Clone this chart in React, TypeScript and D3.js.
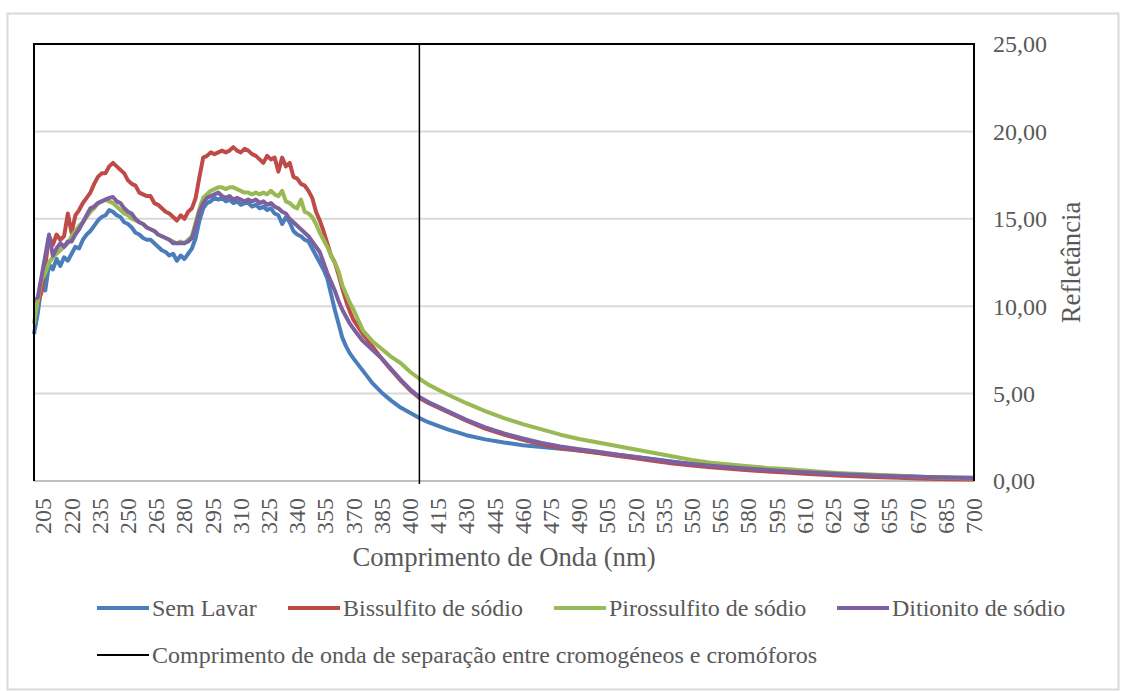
import React from "react";
import * as d3 from "d3";

// wavelength grid (nm)
const gridNoisy = d3.range(200, 370, 2); // 200..368
const gridMid = [370, 375, 380, 385, 390, 395, 400, 405];
const gridTail = d3.range(410, 701, 10); // 410..700
const wavelengths = [...gridNoisy, ...gridMid, ...gridTail];

const semLavar = [
  8.4, 9.6, 11.2, 10.9, 12.4, 12.1, 12.7, 12.3, 12.8, 12.6,
  13.0, 13.4, 13.3, 13.8, 14.1, 14.3, 14.6, 14.9, 15.1, 15.2,
  15.5, 15.4, 15.2, 15.1, 14.8, 14.7, 14.5, 14.2, 14.1, 13.9,
  13.8, 13.8, 13.6, 13.4, 13.2, 13.1, 12.9, 13.0, 12.6, 12.9,
  12.7, 13.0, 13.3, 13.9, 14.9, 15.6, 15.9, 16.0, 16.2, 16.1,
  16.2, 16.0, 16.1, 15.9, 16.0, 15.8, 15.9, 15.9, 15.7, 15.8,
  15.6, 15.7, 15.5, 15.6, 15.3, 15.2, 14.7, 15.1, 14.8, 14.3,
  14.1, 14.0, 13.8, 13.7, 13.3, 12.9, 12.5, 12.1, 11.6, 10.7,
  9.8, 9.0, 8.2, 7.7, 7.3,
  7.0, 6.3, 5.6, 5.05, 4.6, 4.2, 3.9, 3.6,
  3.35, 2.95, 2.62, 2.38, 2.2, 2.05, 1.95, 1.85, 1.75, 1.62,
  1.5, 1.38, 1.24, 1.1, 0.98, 0.88, 0.79, 0.71, 0.64, 0.57,
  0.51, 0.45, 0.4, 0.35, 0.31, 0.28, 0.25, 0.22, 0.2, 0.18,
];

const bissulfito = [
  10.4, 10.2, 10.8, 12.3, 14.0, 13.5, 14.1, 13.8, 14.0, 15.3,
  14.2, 15.2, 15.5, 15.9, 16.2, 16.5, 17.0, 17.4, 17.6, 17.6,
  18.0, 18.2, 18.0, 17.8, 17.6, 17.2, 17.0, 16.9, 16.5, 16.4,
  16.3, 16.3, 15.9, 15.8, 15.6, 15.4, 15.3, 15.1, 14.9, 15.2,
  15.0, 15.4, 15.6, 16.2, 17.4, 18.5, 18.6, 18.8, 18.7, 18.8,
  18.9, 18.8, 18.9, 19.1, 18.9, 18.8, 19.0, 18.9, 18.7, 18.6,
  18.4, 18.2, 18.6, 18.4, 18.5, 17.7, 18.5, 18.0, 18.2, 17.4,
  17.3, 17.0, 16.9, 16.6, 16.2, 15.4, 14.9, 14.3, 13.6, 12.9,
  12.5, 11.8, 11.0, 10.3, 9.7,
  9.2, 8.4, 7.7, 7.0, 6.35, 5.75, 5.2, 4.75,
  4.45, 3.95, 3.45, 3.0, 2.65, 2.35, 2.1, 1.9, 1.75, 1.6,
  1.45, 1.3, 1.15, 1.0, 0.88, 0.78, 0.7, 0.62, 0.55, 0.48,
  0.42, 0.36, 0.3, 0.26, 0.22, 0.18, 0.15, 0.12, 0.1, 0.08,
];

const pirossulfito = [
  9.0, 10.3, 11.5, 11.9, 12.5, 12.8, 13.0, 13.2, 13.4, 13.6,
  14.0, 14.3, 14.6, 14.8, 15.1, 15.4, 15.6, 15.9, 16.0, 16.1,
  16.0, 15.9, 15.7, 15.5, 15.3, 15.2, 15.0, 14.9, 14.8, 14.7,
  14.5, 14.4, 14.3, 14.1, 14.0, 13.9, 13.8, 13.7, 13.6, 13.7,
  13.6, 13.8, 14.0, 14.8, 15.6, 16.2, 16.4, 16.6, 16.7, 16.8,
  16.8, 16.7, 16.8, 16.8, 16.7, 16.6, 16.5, 16.5, 16.4, 16.5,
  16.4, 16.5, 16.4, 16.6, 16.4, 16.3, 16.6, 16.0, 15.9, 15.7,
  15.6, 16.1, 15.4, 15.3, 15.1, 14.7, 14.2, 13.8, 13.4, 12.9,
  12.5, 12.0, 11.2, 10.7, 10.2,
  9.8, 8.6, 8.0, 7.55, 7.1, 6.75, 6.25, 5.85,
  5.5, 4.95, 4.45, 4.0, 3.6, 3.25, 2.95, 2.65, 2.4, 2.2,
  2.0, 1.8, 1.6, 1.4, 1.2, 1.05, 0.95, 0.85, 0.75, 0.68,
  0.6, 0.52, 0.45, 0.4, 0.35, 0.3, 0.25, 0.2, 0.17, 0.15,
];

const ditionito = [
  10.4, 10.5, 11.7, 12.9, 14.1, 12.9, 13.3, 13.6, 13.4, 13.7,
  13.7, 14.1, 14.4, 14.8, 15.2, 15.6, 15.7, 15.9, 16.0, 16.1,
  16.2, 16.25, 16.0, 15.9, 15.6, 15.4, 15.3, 15.0, 14.8, 14.7,
  14.5, 14.4, 14.3, 14.1, 14.0, 13.9, 13.8, 13.6, 13.6, 13.6,
  13.6, 13.7, 13.9, 14.6, 15.4, 15.9, 16.2, 16.3, 16.4, 16.5,
  16.3, 16.2, 16.3, 16.1, 16.2, 16.1, 16.0, 16.1, 16.0, 16.1,
  15.9, 16.0, 15.8, 15.9, 15.7, 15.6, 15.4, 15.3, 15.0, 14.8,
  14.6, 14.4, 14.2, 14.0, 13.7, 13.4, 13.1, 12.5, 11.9, 11.4,
  10.9, 10.3, 9.8, 9.4, 9.0,
  8.7, 8.0, 7.5, 7.0, 6.4, 5.8, 5.25, 4.8,
  4.5, 4.0, 3.5, 3.07, 2.72, 2.43, 2.18, 1.98, 1.82, 1.67,
  1.52, 1.38, 1.23, 1.09, 0.97, 0.87, 0.78, 0.7, 0.63, 0.56,
  0.5, 0.44, 0.39, 0.34, 0.3, 0.27, 0.24, 0.21, 0.19, 0.17,
];

const seriesNames = ["Sem Lavar", "Bissulfito de sódio", "Pirossulfito de sódio", "Ditionito de sódio"];
const seriesValues = [semLavar, bissulfito, pirossulfito, ditionito];
const seriesColors = ["#4A7EBB", "#BE4B48", "#98B954", "#7D60A0"];

const separatorWavelength = 405;
const separatorLabel = "Comprimento de onda de separação entre cromogéneos e cromóforos";
const xTicks = d3.range(205, 701, 15);
const yTicks = [0, 5, 10, 15, 20, 25];
const xTitle = "Comprimento de Onda (nm)";
const yTitle = "Refletância";

const FONT = "'Liberation Serif', 'Times New Roman', serif";
const TXT = "#595959";

export default function App() {
  const left = 34, right = 974, top = 44, bottom = 481;
  const x = d3.scaleLinear().domain([200, 700]).range([left, right]);
  const y = d3.scaleLinear().domain([0, 25]).range([bottom, top]);
  const line = d3
    .line<number>()
    .x((_, i) => x(wavelengths[i]))
    .y((d) => y(d))
    .curve(d3.curveLinear);

  const fmt = (v: number) => v.toFixed(2).replace(".", ",");

  // legend layout
  const legendItems = [
    { lx: 97, tx: 152 },
    { lx: 288, tx: 343 },
    { lx: 554, tx: 609 },
    { lx: 837, tx: 892 },
  ];

  return (
    <svg
      width={1127}
      height={691}
      style={{ position: "absolute", left: 0, top: 0, background: "#fff" }}
      fontFamily={FONT}
    >
      <rect x={7.5} y={13.5} width={1111} height={676} fill="#fff" stroke="#D9D9D9" strokeWidth={2} />
      {/* gridlines */}
      {yTicks.slice(1, -1).map((t) => (
        <line key={t} x1={left} x2={right} y1={y(t)} y2={y(t)} stroke="#D9D9D9" strokeWidth={2} />
      ))}
      {/* x axis line */}
      <line x1={left} x2={right} y1={bottom} y2={bottom} stroke="#BFBFBF" strokeWidth={2} />
      {/* series */}
      {seriesValues.map((vals, i) => (
        <path key={i} d={line(vals) || ""} fill="none" stroke={seriesColors[i]} strokeWidth={4} strokeLinejoin="round" />
      ))}
      {/* separator */}
      <line x1={x(separatorWavelength)} x2={x(separatorWavelength)} y1={top} y2={bottom + 3} stroke="#000" strokeWidth={1.5} />
      {/* plot border */}
      <path d={`M${left},${bottom} V${top} H${right} V${bottom}`} fill="none" stroke="#000" strokeWidth={2} />
      {/* y ticks (right) */}
      {yTicks.map((t) => (
        <text key={t} x={993} y={y(t)} dy="0.35em" fontSize={24} fill={TXT}>
          {fmt(t)}
        </text>
      ))}
      <text
        transform={`translate(1080,${(top + bottom) / 2}) rotate(-90)`}
        textAnchor="middle"
        fontSize={26.7}
        fill={TXT}
      >
        {yTitle}
      </text>
      {/* x ticks */}
      {xTicks.map((t) => (
        <text
          key={t}
          transform={`translate(${x(t)},498) rotate(-90)`}
          textAnchor="end"
          dy="0.33em"
          fontSize={24}
          fill={TXT}
        >
          {t}
        </text>
      ))}
      <text x={(left + right) / 2} y={566} textAnchor="middle" fontSize={26.7} fill={TXT}>
        {xTitle}
      </text>
      {/* legend */}
      {seriesNames.map((n, i) => (
        <g key={n}>
          <line x1={legendItems[i].lx} x2={legendItems[i].lx + 52} y1={608} y2={608} stroke={seriesColors[i]} strokeWidth={4} />
          <text x={legendItems[i].tx} y={608} dy="0.33em" fontSize={24} fill={TXT}>
            {n}
          </text>
        </g>
      ))}
      <line x1={97} x2={149} y1={655} y2={655} stroke="#000" strokeWidth={2} />
      <text x={152} y={655} dy="0.33em" fontSize={24} fill={TXT}>
        {separatorLabel}
      </text>
    </svg>
  );
}
